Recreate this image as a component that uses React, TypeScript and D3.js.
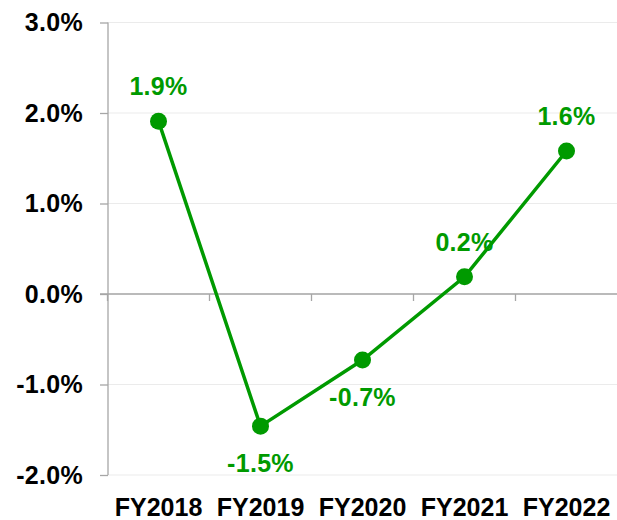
import * as d3 from 'd3';
import { useEffect, useRef } from 'react';

const categories = ['FY2018', 'FY2019', 'FY2020', 'FY2021', 'FY2022'];
const values = [1.91, -1.46, -0.73, 0.19, 1.58];
const labelBelow = [false, true, true, false, false];
const yTicks = [-2, -1, 0, 1, 2, 3];

const W = 617;
const H = 520;
const GREEN = '#009a00';
const FONT = 'Liberation Sans, Arial, sans-serif';

export default function App() {
  const ref = useRef<SVGSVGElement>(null);

  useEffect(() => {
    const svg = d3.select(ref.current);
    svg.selectAll('*').remove();

    const margin = { top: 22.5, right: -0.5, bottom: 45, left: 108 };
    const x = d3.scaleBand().domain(categories).range([margin.left - 0.5, W - margin.right]);
    const y = d3.scaleLinear().domain([-2, 3]).range([H - margin.bottom, margin.top]);

    // gridlines
    svg.append('g')
      .selectAll('line')
      .data(yTicks)
      .enter()
      .append('line')
      .attr('x1', margin.left)
      .attr('x2', W)
      .attr('y1', d => y(d))
      .attr('y2', d => y(d))
      .attr('stroke', '#ebebeb')
      .attr('stroke-width', 1);

    // y axis
    const yAxis = svg.append('g')
      .attr('transform', `translate(${margin.left},0)`)
      .call(d3.axisLeft(y).tickValues(yTicks).tickSize(8).tickPadding(17).tickFormat(d => `${(+d).toFixed(1)}%`));
    yAxis.selectAll('path, line').attr('stroke', '#a6a6a6').attr('stroke-width', 1.3);
    yAxis.select('.domain').attr('d', `M-0,${y(3)}V${y(-2)}`);
    yAxis.selectAll('text')
      .attr('fill', '#000')
      .attr('font-family', FONT)
      .attr('font-weight', 'bold')
      .attr('font-size', 25)
      .attr('letter-spacing', 0.3);

    // x axis at zero
    const zeroY = y(0);
    svg.append('line')
      .attr('x1', margin.left - 8)
      .attr('x2', W)
      .attr('y1', zeroY)
      .attr('y2', zeroY)
      .attr('stroke', '#a6a6a6')
      .attr('stroke-width', 1.3);
    svg.append('g')
      .selectAll('line')
      .data(categories)
      .enter()
      .append('line')
      .attr('x1', d => x(d)!)
      .attr('x2', d => x(d)!)
      .attr('y1', zeroY)
      .attr('y2', zeroY + 7)
      .attr('stroke', '#a6a6a6')
      .attr('stroke-width', 1.3);

    // category labels
    svg.append('g')
      .selectAll('text')
      .data(categories)
      .enter()
      .append('text')
      .attr('x', d => x(d)! + x.bandwidth() / 2)
      .attr('y', 516)
      .attr('text-anchor', 'middle')
      .attr('font-family', FONT)
      .attr('font-weight', 'bold')
      .attr('font-size', 25)
      .attr('fill', '#000')
      .text(d => d);

    const pts = categories.map((c, i) => ({ c, v: values[i], below: labelBelow[i] }));
    const line = d3.line<{ c: string; v: number }>()
      .x(d => x(d.c)! + x.bandwidth() / 2)
      .y(d => y(d.v));

    svg.append('path')
      .datum(pts)
      .attr('d', line)
      .attr('fill', 'none')
      .attr('stroke', GREEN)
      .attr('stroke-width', 3.5);

    svg.append('g')
      .selectAll('circle')
      .data(pts)
      .enter()
      .append('circle')
      .attr('cx', d => x(d.c)! + x.bandwidth() / 2)
      .attr('cy', d => y(d.v))
      .attr('r', 8.5)
      .attr('fill', GREEN);

    svg.append('g')
      .selectAll('text')
      .data(pts)
      .enter()
      .append('text')
      .attr('x', d => x(d.c)! + x.bandwidth() / 2)
      .attr('y', d => y(d.v) + (d.below ? 46 : -26))
      .attr('text-anchor', 'middle')
      .attr('font-family', FONT)
      .attr('font-weight', 'bold')
      .attr('font-size', 25)
      .attr('letter-spacing', 0.3)
      .attr('fill', GREEN)
      .text(d => `${d.v.toFixed(1)}%`);
  }, []);

  return (
    <div style={{ position: 'absolute', left: 0, top: 0, background: '#fff' }}>
      <svg ref={ref} width={W} height={H} style={{ display: 'block' }}></svg>
    </div>
  );
}
